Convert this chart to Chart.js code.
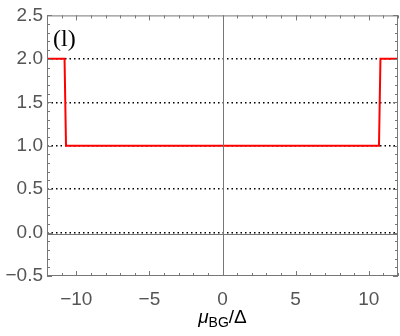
<!DOCTYPE html>
<html>
<head>
<meta charset="utf-8">
<script src="https://cdn.jsdelivr.net/npm/chart.js@4"></script>
<style>
  html, body { margin: 0; padding: 0; background: #fff; }
  #wrap { width: 400px; height: 336px; }
</style>
</head>
<body>
<div id="wrap"><canvas id="chart"></canvas></div>
<script>
// step curve
const muX = [-12, -10.8, -10.7, 10.7, 10.8, 12];
const nVal = [2, 2, 1, 1, 2, 2];

const xMin = -12, xMax = 12;
const yMin = -0.5, yMax = 2.5;
const xTicks = [-10, -5, 0, 5, 10];
const yTicks = [-0.5, 0, 0.5, 1, 1.5, 2, 2.5];
const gridY = [0, 0.5, 1, 1.5, 2];

const fmt = (v, d) => (v < 0 ? "\u2212" : "") + Math.abs(v).toFixed(d);

// frame with inward ticks, axes through zero, panel tag and x label
const framePlugin = {
  id: "frame",
  afterDraw(chart) {
    const { ctx, chartArea: a, scales } = chart;
    const x = scales.x, y = scales.y;
    ctx.save();
    // axes at zero
    ctx.strokeStyle = "#777";
    ctx.lineWidth = 1;
    ctx.beginPath();
    const x0 = Math.round(x.getPixelForValue(0)) + 0.5;
    const y0 = Math.round(y.getPixelForValue(0)) + 0.5;
    ctx.moveTo(x0, a.top); ctx.lineTo(x0, a.bottom);
    ctx.moveTo(a.left, y0 + 1); ctx.lineTo(a.right, y0 + 1);
    ctx.stroke();

    // frame
    ctx.strokeRect(a.left + 0.5, a.top + 0.5, a.right - a.left - 1, a.bottom - a.top - 1);

    // ticks
    ctx.beginPath();
    for (let v = xMin; v <= xMax + 1e-9; v += 1) {
      const p = Math.round(x.getPixelForValue(v)) + 0.5;
      const len = Math.abs(v % 5) < 1e-9 ? 5 : 3;
      ctx.moveTo(p, a.bottom); ctx.lineTo(p, a.bottom - len);
      ctx.moveTo(p, a.top); ctx.lineTo(p, a.top + len);
    }
    for (let i = 0; i <= 30; i++) {
      const v = yMin + i * 0.1;
      const p = Math.round(y.getPixelForValue(v)) + 0.5;
      const len = i % 5 === 0 ? 5 : 3;
      ctx.moveTo(a.left, p); ctx.lineTo(a.left + len, p);
      ctx.moveTo(a.right, p); ctx.lineTo(a.right - len, p);
    }
    ctx.stroke();

    // panel tag
    ctx.fillStyle = "#000";
    ctx.font = "24px 'Liberation Serif', serif";
    ctx.textBaseline = "alphabetic";
    ctx.fillText("(l)", a.left + 6, a.top + 31);

    // x title: mu_BG / Delta
    const cx = x.getPixelForValue(0);
    const base = 323;
    const big = "19px 'Liberation Sans', Arial, sans-serif";
    const bigI = "italic 19px 'Liberation Sans', Arial, sans-serif";
    const small = "14px 'Liberation Sans', Arial, sans-serif";
    ctx.font = bigI; const wMu = ctx.measureText("\u03bc").width;
    ctx.font = small; const wBG = ctx.measureText("BG").width;
    ctx.font = big; const wRest = ctx.measureText("/\u0394").width;
    let px = cx - (wMu + wBG + wRest) / 2;
    ctx.font = bigI; ctx.fillText("\u03bc", px, base); px += wMu;
    ctx.font = small; ctx.fillText("BG", px, base + 4); px += wBG;
    ctx.font = big; ctx.fillText("/\u0394", px, base);
    ctx.restore();
  }
};

new Chart(document.getElementById("chart"), {
  type: "scatter",
  data: {
    datasets: [
      {
        data: muX.map((v, i) => ({ x: v, y: nVal[i] })),
        showLine: true,
        borderColor: "#ff0000",
        borderWidth: 2,
        pointRadius: 0,
        fill: false,
      },
    ],
  },
  options: {
    responsive: true,
    maintainAspectRatio: false,
    animation: false,
    layout: { padding: { top: 12, right: 2, left: 0, bottom: 0 } },
    plugins: { legend: { display: false }, tooltip: { enabled: false } },
    scales: {
      x: {
        type: "linear",
        min: xMin,
        max: xMax,
        afterBuildTicks: (s) => { s.ticks = xTicks.map((v) => ({ value: v })); },
        afterFit: (s) => { s.height = 60; },
        ticks: {
          autoSkip: false,
          maxRotation: 0,
          padding: 4,
          color: "#555",
          font: { size: 19, family: "'Liberation Sans', Arial, sans-serif" },
          callback: (v) => fmt(v, 0),
        },
        grid: { display: false },
        border: { display: false },
      },
      y: {
        type: "linear",
        min: yMin,
        max: yMax,
        afterBuildTicks: (s) => { s.ticks = yTicks.map((v) => ({ value: v })); },
        afterFit: (s) => { s.width = 47; },
        ticks: {
          autoSkip: false,
          padding: 4,
          color: "#555",
          font: { size: 19, family: "'Liberation Sans', Arial, sans-serif" },
          callback: (v) => fmt(v, 1),
        },
        grid: {
          drawTicks: false,
          lineWidth: 1.5,
          color: (c) => (gridY.includes(c.tick.value) ? "#000" : "rgba(0,0,0,0)"),
          borderDash: [1.5, 3],
        },
        border: { display: false, dash: [1.5, 3] },
      },
    },
  },
  plugins: [framePlugin],
});
</script>
</body>
</html>
